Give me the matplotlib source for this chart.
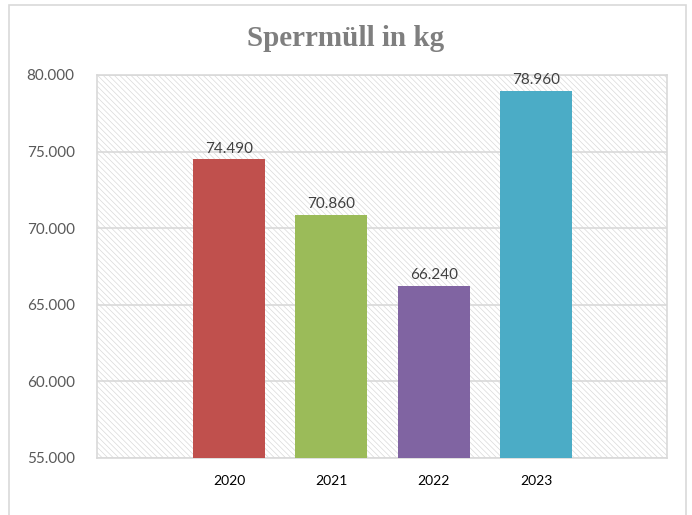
import matplotlib.pyplot as plt
from matplotlib.patches import Rectangle
from matplotlib.ticker import FuncFormatter

years = ['2020', '2021', '2022', '2023']
values = [74490, 70860, 66240, 78960]
colors = ['#c0504d', '#9bbb59', '#8064a2', '#4bacc6']

plt.rcParams['font.family'] = ['Lato', 'DejaVu Sans']
plt.rcParams['hatch.color'] = '#d9d9d9'
plt.rcParams['hatch.linewidth'] = 0.5

fig = plt.figure(figsize=(6.92, 5.15), dpi=100)
ax = fig.add_axes([0.140, 0.1107, 0.824, 0.7437])

# outer chart frame
fig.patches.append(Rectangle((9 / 692, -0.02), 677 / 692, 1.0 - 5 / 515 + 0.02,
                             transform=fig.transFigure, fill=False,
                             edgecolor='#d9d9d9', linewidth=1.2))

# hatched plot area
ax.set_facecolor('white')
ax.add_patch(Rectangle((0, 0), 1, 1, transform=ax.transAxes, facecolor='white',
                       edgecolor='#d9d9d9', hatch='\\' * 6, linewidth=0, zorder=0))

x = range(len(years))
bars = ax.bar(x, values, width=0.70, color=colors, zorder=3)
for xi, v in zip(x, values):
    ax.text(xi, v + 250, f'{v:,.0f}'.replace(',', '.'), ha='center', va='bottom',
            fontsize=11, color='#404040', zorder=4)

ax.set_ylim(55000, 80000)
ax.set_yticks(range(55000, 80001, 5000))
ax.yaxis.set_major_formatter(FuncFormatter(lambda v, p: f'{v:,.0f}'.replace(',', '.')))
ax.set_xlim(-1.29, 4.28)
ax.set_xticks(list(x))
ax.set_xticklabels(years)
ax.grid(axis='y', color='#d9d9d9', linewidth=1.2, zorder=1)
ax.set_axisbelow(True)
ax.tick_params(axis='both', length=0)
ax.tick_params(axis='y', labelsize=11, labelcolor='#595959', pad=16)
ax.tick_params(axis='x', labelsize=10, labelcolor='#000000', pad=12)
for s in ax.spines.values():
    s.set_color('#d9d9d9')
    s.set_linewidth(1.2)

fig.text(0.5, 0.925, 'Sperrmüll in kg', ha='center', va='center',
         fontsize=21, fontweight='bold', color='#7f7f7f', family='Liberation Serif')

plt.savefig('out.png', dpi=100)
